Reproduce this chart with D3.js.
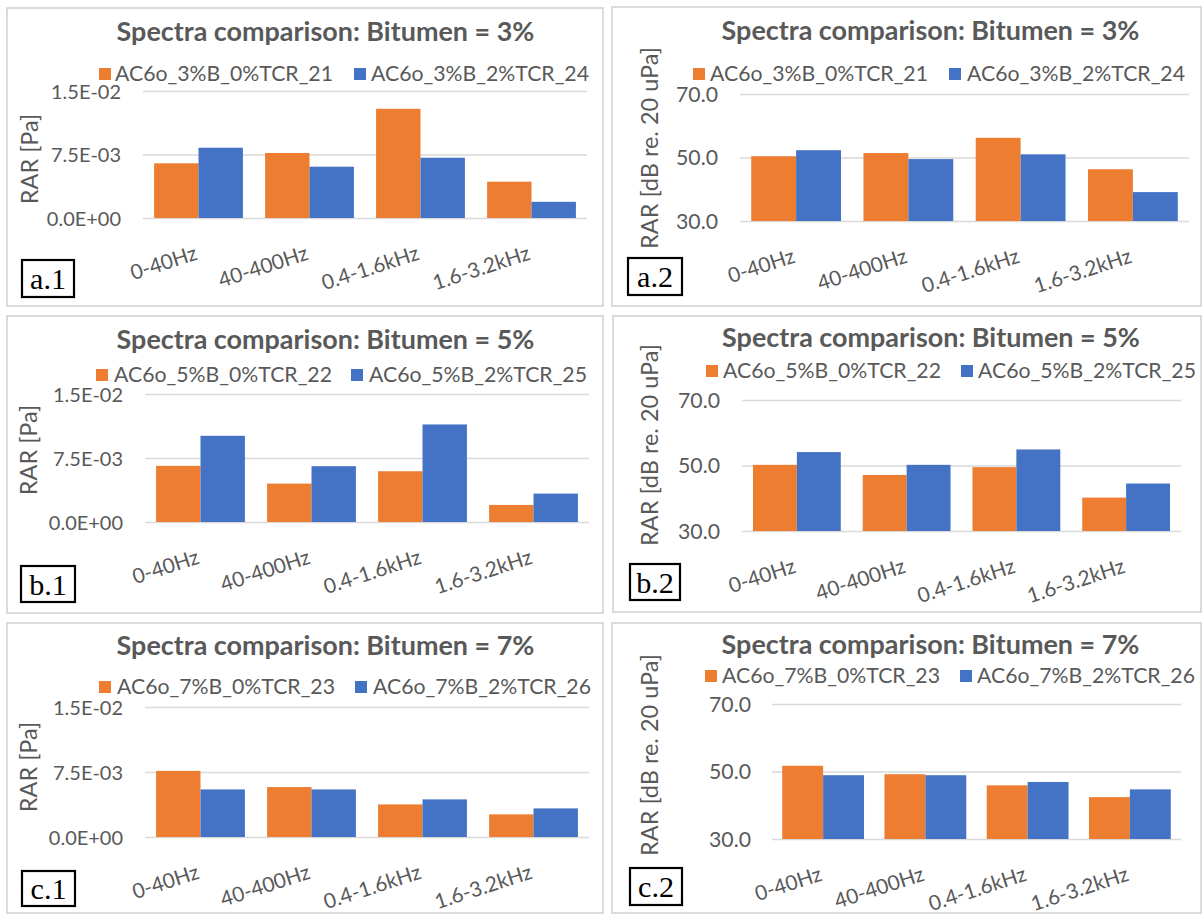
<!DOCTYPE html>
<html>
<head>
<meta charset="utf-8">
<script src="https://cdn.jsdelivr.net/npm/d3@7"></script>
<style>
  html, body { margin: 0; padding: 0; background: #ffffff; }
  svg { display: block; }
</style>
</head>
<body>
<svg id="chart" width="1203" height="916"></svg>
<script>
// ---------------- DATA ----------------
const categories = ["0-40Hz", "40-400Hz", "0.4-1.6kHz", "1.6-3.2kHz"];

const titles = [
  "Spectra comparison: Bitumen = 3%",
  "Spectra comparison: Bitumen = 5%",
  "Spectra comparison: Bitumen = 7%"
];

const series3 = ["AC6o_3%B_0%TCR_21", "AC6o_3%B_2%TCR_24"];
const series5 = ["AC6o_5%B_0%TCR_22", "AC6o_5%B_2%TCR_25"];
const series7 = ["AC6o_7%B_0%TCR_23", "AC6o_7%B_2%TCR_26"];

// RAR in Pa
const pa3_0 = [0.00646, 0.00768, 0.0129, 0.00429];
const pa3_2 = [0.0083, 0.00606, 0.00712, 0.00191];
const pa5_0 = [0.00658, 0.0045, 0.00595, 0.0020];
const pa5_2 = [0.0101, 0.00654, 0.01143, 0.00333];
const pa7_0 = [0.00763, 0.00576, 0.00376, 0.00261];
const pa7_2 = [0.00549, 0.00549, 0.00434, 0.0033];

// RAR in dB re. 20 uPa
const db3_0 = [50.4, 51.4, 56.2, 46.3];
const db3_2 = [52.3, 49.5, 51.0, 39.1];
const db5_0 = [50.2, 47.1, 49.5, 40.2];
const db5_2 = [54.1, 50.2, 54.9, 44.5];
const db7_0 = [51.7, 49.2, 45.9, 42.4];
const db7_2 = [48.9, 48.9, 46.9, 44.7];

const paTicks = [0, 0.0075, 0.015];
const paTickLabels = ["0.0E+00", "7.5E-03", "1.5E-02"];
const dbTicks = [30, 50, 70];
const dbTickLabels = ["30.0", "50.0", "70.0"];

const yTitlePa = "RAR [Pa]";
const yTitleDb = "RAR [dB re. 20 uPa]";
const tags = ["a.1", "a.2", "b.1", "b.2", "c.1", "c.2"];

// ---------------- STYLE ----------------
const colors = ["#ED7D31", "#4472C4"];
const textColor = "#595959";
const gridColor = "#D9D9D9";
const sans = "Lato, 'Open Sans', sans-serif";
const serif = "'Liberation Serif', 'Times New Roman', serif";

// ---------------- LAYOUT (per panel) ----------------
const panels = [
  { tag: tags[0], title: titles[0], series: series3, values: [pa3_0, pa3_2], unit: "pa",
    border: [7, 8, 603, 306], px: [143, 587], py: [218, 91], titleCx: 325.5, titleY: 41,
    leg: [99, 115, 354, 371], legY: 81, tickEnd: 121, yT: [30, 159], tagBox: [22, 260, 52, 37] },
  { tag: tags[1], title: titles[0], series: series3, values: [db3_0, db3_2], unit: "db",
    border: [612, 7, 1201, 306], px: [740, 1189], py: [221, 94], titleCx: 930.5, titleY: 40,
    leg: [693, 710, 949, 967], legY: 81, tickEnd: 718, yT: [650, 148], tagBox: [628, 258, 54, 37] },
  { tag: tags[2], title: titles[1], series: series5, values: [pa5_0, pa5_2], unit: "pa",
    border: [7, 316, 603, 613], px: [145, 589], py: [522, 394], titleCx: 325.5, titleY: 349,
    leg: [96, 114, 351, 369], legY: 382, tickEnd: 123, yT: [29, 450], tagBox: [21, 566, 54, 36] },
  { tag: tags[3], title: titles[1], series: series5, values: [db5_0, db5_2], unit: "db",
    border: [613, 316, 1201, 612], px: [742, 1181], py: [531, 400], titleCx: 931, titleY: 347,
    leg: [706, 723, 961, 978], legY: 378, tickEnd: 720, yT: [650, 445], tagBox: [630, 564, 50, 36] },
  { tag: tags[4], title: titles[2], series: series7, values: [pa7_0, pa7_2], unit: "pa",
    border: [7, 623, 603, 913], px: [145, 589], py: [837, 707], titleCx: 325.5, titleY: 655,
    leg: [99, 117, 355, 373], legY: 694, tickEnd: 123, yT: [29, 767], tagBox: [22, 871, 53, 35] },
  { tag: tags[5], title: titles[2], series: series7, values: [db7_0, db7_2], unit: "db",
    border: [612, 623, 1201, 913], px: [772, 1181], py: [839, 704], titleCx: 930.5, titleY: 654,
    leg: [705, 722, 960, 977], legY: 683, tickEnd: 751, yT: [650, 755], tagBox: [630, 868, 52, 37] }
];

const svg = d3.select("#chart");
svg.append("rect").attr("width", 1203).attr("height", 916).attr("fill", "#fff");

// font-size fitting from measured reference widths
function fit(str, weight, family, target) {
  const t = svg.append("text").attr("font-family", family).attr("font-weight", weight)
    .attr("font-size", 100).attr("opacity", 0).text(str);
  const w = t.node().getComputedTextLength();
  t.remove();
  return 100 * target / w;
}
const titleSize = fit(titles[0], 700, sans, 418);
const legendSize = fit(series3[0], 400, sans, 218);
const tickSizePa = fit(paTickLabels[2], 400, sans, 70);
const tickSizeDb = fit(dbTickLabels[2], 400, sans, 42);
const yTitleSize = fit(yTitleDb, 400, sans, 202);
const catSize = fit(categories[3], 400, sans, 101);
const tagSize = fit(tags[0], 400, serif, 36);

panels.forEach(p => {
  const g = svg.append("g");
  const [bx0, by0, bx1, by1] = p.border;
  g.append("rect").attr("x", bx0).attr("y", by0).attr("width", bx1 - bx0).attr("height", by1 - by0)
    .attr("fill", "#fff").attr("stroke", "#D0D0D0").attr("stroke-width", 1.5);

  const x = d3.scaleBand().domain(categories).range(p.px).paddingInner(0.2).paddingOuter(0.1);
  const xs = d3.scaleBand().domain([0, 1]).range([0, x.bandwidth()]);
  const ticks = p.unit === "pa" ? paTicks : dbTicks;
  const tickLabels = p.unit === "pa" ? paTickLabels : dbTickLabels;
  const y = d3.scaleLinear().domain([ticks[0], ticks[ticks.length - 1]]).range(p.py);

  // gridlines
  const grid = g.append("g").attr("transform", `translate(${p.px[0]},0)`)
    .call(d3.axisLeft(y).tickValues(ticks).tickSize(-(p.px[1] - p.px[0])).tickFormat(""));
  grid.select(".domain").remove();
  grid.selectAll(".tick line").attr("stroke", gridColor).attr("stroke-width", 1.5);

  // tick labels
  const ax = g.append("g").attr("transform", `translate(${p.tickEnd},0)`)
    .call(d3.axisLeft(y).tickValues(ticks).tickSize(0).tickPadding(0)
      .tickFormat((d, i) => tickLabels[i]));
  ax.select(".domain").remove();
  ax.selectAll(".tick text").attr("font-family", sans)
    .attr("font-size", p.unit === "pa" ? tickSizePa : tickSizeDb)
    .attr("fill", textColor).attr("dy", "0.35em");

  // bars
  p.values.forEach((vals, si) => {
    g.append("g").selectAll("rect").data(vals).join("rect")
      .attr("x", (d, i) => x(categories[i]) + xs(si))
      .attr("width", xs.bandwidth())
      .attr("y", d => y(d))
      .attr("height", d => y(ticks[0]) - y(d))
      .attr("fill", colors[si]);
  });

  // category labels
  const yBase = y(ticks[0]);
  const off = 41;
  g.append("g").selectAll("text").data(categories).join("text")
    .attr("x", d => x(d) + x.bandwidth() / 2)
    .attr("y", yBase + off)
    .attr("transform", d => `rotate(-18, ${x(d) + x.bandwidth() / 2}, ${yBase + off})`)
    .attr("text-anchor", "end")
    .attr("font-family", sans).attr("font-size", catSize).attr("fill", textColor)
    .text(d => d);

  // title
  g.append("text").attr("x", p.titleCx).attr("y", p.titleY).attr("text-anchor", "middle")
    .attr("font-family", sans).attr("font-weight", 700).attr("font-size", titleSize)
    .attr("fill", textColor).text(p.title);

  // legend
  p.series.forEach((s, si) => {
    const sx = p.leg[si * 2], tx = p.leg[si * 2 + 1];
    g.append("rect").attr("x", sx).attr("y", p.legY - 13).attr("width", 12).attr("height", 12)
      .attr("fill", colors[si]);
    g.append("text").attr("x", tx).attr("y", p.legY).attr("font-family", sans)
      .attr("font-size", legendSize).attr("fill", textColor).text(s);
  });

  // y-axis title
  g.append("text").attr("transform", `translate(${p.yT[0]},${p.yT[1]}) rotate(-90)`)
    .attr("text-anchor", "middle").attr("dy", "0.35em")
    .attr("font-family", sans).attr("font-size", yTitleSize).attr("fill", textColor)
    .text(p.unit === "pa" ? yTitlePa : yTitleDb);

  // tag box
  const [tx0, ty0, tw, th] = p.tagBox;
  g.append("rect").attr("x", tx0).attr("y", ty0).attr("width", tw).attr("height", th)
    .attr("fill", "#fff").attr("stroke", "#000").attr("stroke-width", 2.2);
  g.append("text").attr("x", tx0 + tw / 2).attr("y", ty0 + th / 2).attr("dy", "0.36em")
    .attr("text-anchor", "middle").attr("font-family", serif).attr("font-size", tagSize)
    .attr("fill", "#000").text(p.tag);
});
</script>
</body>
</html>
